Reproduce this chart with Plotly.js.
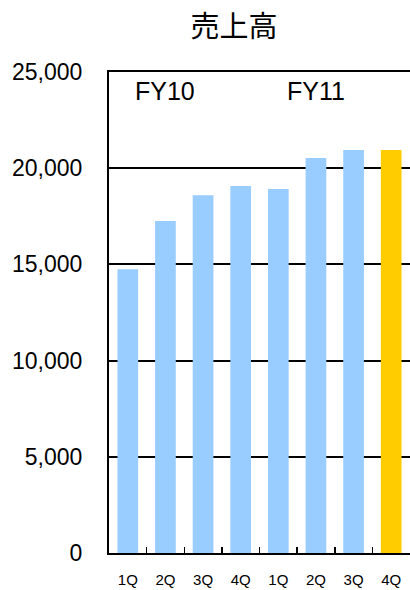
<!DOCTYPE html>
<html><head><meta charset="utf-8">
<script src="https://cdn.plot.ly/plotly-3.0.1.min.js"></script>
<style>html,body{margin:0;padding:0;background:#fff;}#chart{width:410px;height:590px;}</style>
</head><body><div id="chart"></div>
<script>
const categories = ["FY10 1Q","FY10 2Q","FY10 3Q","FY10 4Q","FY11 1Q","FY11 2Q","FY11 3Q","FY11 4Q"];
const tickLabels = ["1Q","2Q","3Q","4Q","1Q","2Q","3Q","4Q"];
const sales = [14750, 17250, 18600, 19080, 18920, 20530, 20950, 20950];
const barColors = ["#99CCFF","#99CCFF","#99CCFF","#99CCFF","#99CCFF","#99CCFF","#99CCFF","#FFCC00"];
const yearLabels = [{text:"FY10", at:"FY10 2Q"},{text:"FY11", at:"FY11 2Q"}];

const trace = {type:"bar", x:categories, y:sales, marker:{color:barColors}, hoverinfo:"none"};
const layout = {
  width:410, height:590,
  margin:{l:109, r:0, t:72, b:37},
  paper_bgcolor:"#fff", plot_bgcolor:"#fff",
  font:{family:"Liberation Sans, Arial, sans-serif", color:"#000"},
  title:{text:"売上高", font:{family:"Noto Sans CJK JP, sans-serif", size:29, color:"#000"}, x:234/410, xanchor:"center", y:1-27/590, yanchor:"middle"},
  bargap:0.45,
  showlegend:false,
  xaxis:{type:"category", tickvals:categories, ticktext:tickLabels, showline:true, mirror:true, linecolor:"#000", linewidth:2,
         ticks:"inside", tickson:"boundaries", ticklen:6, tickcolor:"#000", tickwidth:1.5,
         tickfont:{size:15}, ticklabelstandoff:12, showgrid:false, fixedrange:true},
  yaxis:{range:[0,25000], dtick:5000, tickformat:",d", showline:true, linecolor:"#000", linewidth:2,
         ticks:"inside", ticklen:8, tickcolor:"#000", tickwidth:1.5,
         showgrid:true, gridcolor:"#000", gridwidth:2, zeroline:false,
         tickfont:{size:23}, ticklabelstandoff:20, fixedrange:true},
  annotations: yearLabels.map(a => ({x:a.at, y:25000, xref:"x", yref:"y", text:a.text, showarrow:false,
      yanchor:"middle", yshift:-19, font:{size:25, color:"#000"}}))
};
Plotly.newPlot("chart",[trace],layout,{displayModeBar:false, staticPlot:true});
</script></body></html>
